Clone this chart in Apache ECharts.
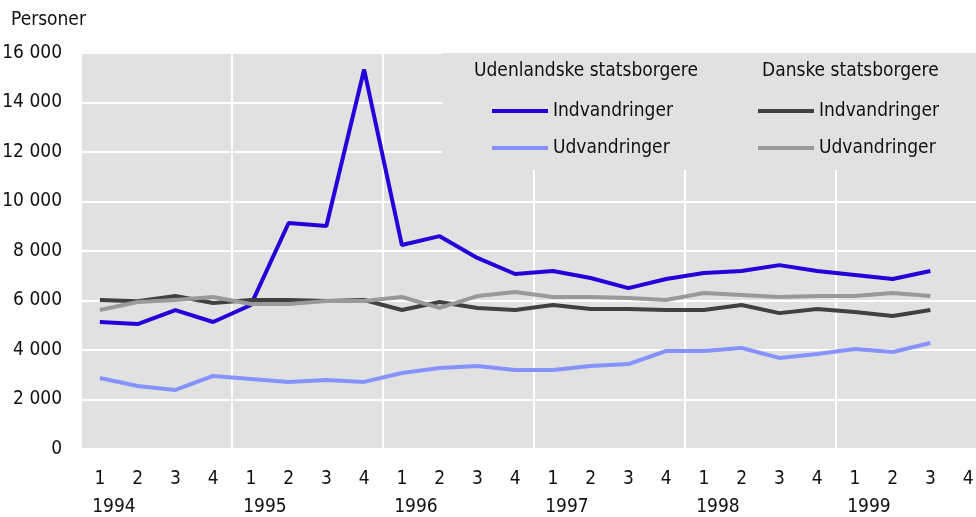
<!DOCTYPE html>
<html>
<head>
<meta charset="utf-8">
<script src="https://cdn.jsdelivr.net/npm/echarts@6/dist/echarts.min.js"></script>
<style>
html,body{margin:0;padding:0;background:#fff;}
#chart{width:976px;height:517px;}
</style>
</head>
<body>
<div id="chart"></div>
<script>
var categories = ['1994 K1','1994 K2','1994 K3','1994 K4','1995 K1','1995 K2','1995 K3','1995 K4','1996 K1','1996 K2','1996 K3','1996 K4','1997 K1','1997 K2','1997 K3','1997 K4','1998 K1','1998 K2','1998 K3','1998 K4','1999 K1','1999 K2','1999 K3','1999 K4'];
var quarterLabels = ['1','2','3','4','1','2','3','4','1','2','3','4','1','2','3','4','1','2','3','4','1','2','3','4'];
var yearLabels = ['1994','','','','1995','','','','1996','','','','1997','','','','1998','','','','1999','','',''];

var udlIndvandringer = [5130,5050,5610,5130,5820,9130,9010,15330,8240,8600,7720,7070,7190,6910,6500,6870,7110,7190,7430,7190,7030,6870,7190,null];
var udlUdvandringer  = [2870,2545,2385,2950,2830,2710,2790,2710,3070,3270,3350,3190,3190,3350,3430,3960,3960,4080,3680,3840,4040,3920,4280,null];
var dkIndvandringer  = [6020,5970,6180,5900,6020,6020,5980,6020,5615,5940,5700,5615,5820,5660,5660,5615,5615,5820,5490,5660,5535,5370,5615,null];
var dkUdvandringer   = [5615,5940,6020,6140,5860,5860,5980,5980,6140,5700,6180,6340,6140,6140,6100,6020,6300,6220,6140,6180,6180,6300,6180,null];

var yTicks = {min:0, max:16000, interval:2000};
var groupTitles = ['Udenlandske statsborgere','Danske statsborgere'];
var seriesNames = ['Udl. Indvandringer','Udl. Udvandringer','Dk. Indvandringer','Dk. Udvandringer'];
var legendText = {'Udl. Indvandringer':'Indvandringer','Udl. Udvandringer':'Udvandringer','Dk. Indvandringer':'Indvandringer','Dk. Udvandringer':'Udvandringer'};

var FONT = "'Liberation Sans Narrow','Arial Narrow','DejaVu Sans Condensed',sans-serif";
var FS = 19;
var colors = ['#2200d8','#8792ff','#404040','#999999'];

var chart = echarts.init(document.getElementById('chart'), null, {renderer:'canvas'});

function lineSeries(name, data, color){
  return {
    name: name, type:'line', data: data, symbol:'none', color: color,
    lineStyle:{color: color, width:4}, z:3, animation:false
  };
}

var option = {
  backgroundColor:'#ffffff',
  animation:false,
  textStyle:{fontFamily:FONT},
  title:[
    {text:'Personer', left:11, top:11, padding:0, textStyle:{fontFamily:FONT, fontSize:FS, fontWeight:'normal', color:'#111'}},
    {text:groupTitles[0], left:474, top:62, padding:0, z:8, textStyle:{fontFamily:FONT, fontSize:FS, fontWeight:'normal', color:'#111'}},
    {text:groupTitles[1], left:762, top:62, padding:0, z:8, textStyle:{fontFamily:FONT, fontSize:FS, fontWeight:'normal', color:'#111'}}
  ],
  legend:[
    {data:[seriesNames[0],seriesNames[1]], orient:'vertical', left:492, top:100, padding:0, itemGap:15,
     itemWidth:56, itemHeight:4, icon:'rect', z:8,
     formatter:function(n){return legendText[n];},
     textStyle:{fontFamily:FONT, fontSize:FS, color:'#111', lineHeight:22}},
    {data:[seriesNames[2],seriesNames[3]], orient:'vertical', left:758, top:100, padding:0, itemGap:15,
     itemWidth:56, itemHeight:4, icon:'rect', z:8,
     formatter:function(n){return legendText[n];},
     textStyle:{fontFamily:FONT, fontSize:FS, color:'#111', lineHeight:22}}
  ],
  graphic:[
    {type:'rect', z:1, silent:true, shape:{x:442, y:53, width:540, height:117}, style:{fill:'#e1e1e1'}}
  ],
  grid:{left:81, right:-11, top:53, bottom:68, show:true, backgroundColor:'#e1e1e1', borderWidth:0,
        containLabel:false, outerBoundsMode:'none'},
  xAxis:[
    {type:'category', data:categories, boundaryGap:true,
     axisLine:{show:false}, axisTick:{show:false},
     splitLine:{show:true, interval:function(i){return i % 4 === 0;}, lineStyle:{color:'#ffffff', width:2}},
     axisLabel:{interval:0, margin:21, fontFamily:FONT, fontSize:FS, color:'#111', hideOverlap:false,
       formatter:function(v, i){return quarterLabels[i];}}},
    {type:'category', data:categories, boundaryGap:true, position:'bottom',
     axisLine:{show:false}, axisTick:{show:false}, splitLine:{show:false},
     axisLabel:{interval:0, margin:49, align:'center', fontFamily:FONT, fontSize:FS, color:'#111', hideOverlap:false,
       formatter:function(v, i){return yearLabels[i] ? '{y|' + yearLabels[i] + '}' : '';},
       rich:{y:{fontFamily:FONT, fontSize:FS, color:'#111', padding:[0,0,0,28]}}}}
  ],
  yAxis:{type:'value', min:yTicks.min, max:yTicks.max, interval:yTicks.interval,
    axisLine:{show:false}, axisTick:{show:false},
    splitLine:{show:true, lineStyle:{color:'#ffffff', width:2}},
    axisLabel:{margin:19, fontFamily:FONT, fontSize:FS, color:'#111',
      formatter:function(v){return String(v).replace(/\B(?=(\d{3})+(?!\d))/g,' ');}}},
  series:[
    lineSeries(seriesNames[0], udlIndvandringer, colors[0]),
    lineSeries(seriesNames[1], udlUdvandringer, colors[1]),
    lineSeries(seriesNames[2], dkIndvandringer, colors[2]),
    lineSeries(seriesNames[3], dkUdvandringer, colors[3])
  ]
};
chart.setOption(option);
</script>
</body>
</html>
